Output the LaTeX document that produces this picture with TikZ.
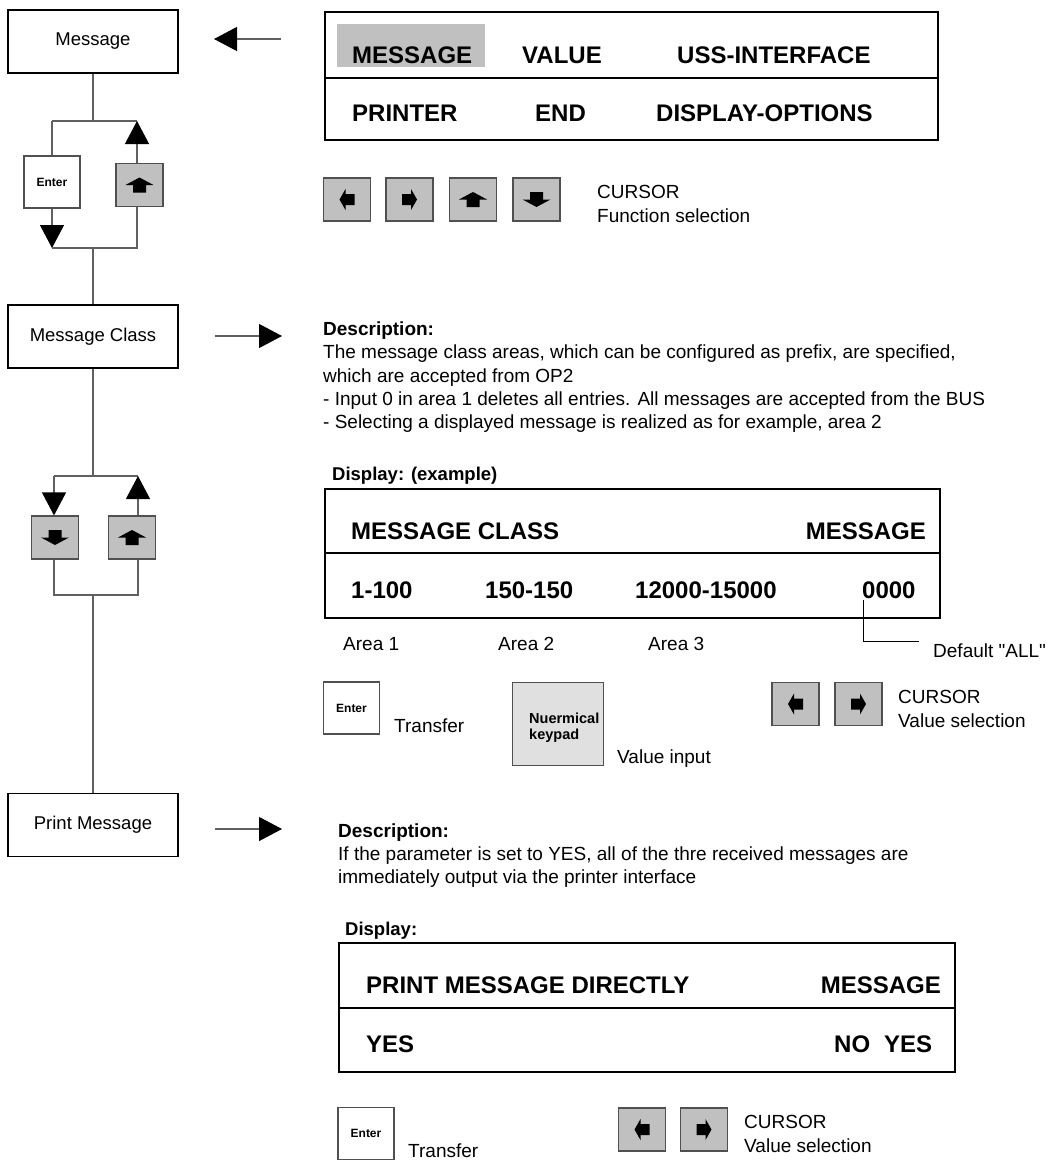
\documentclass[tikz,border=0pt]{standalone}
\usepackage{fontspec}
\setmainfont{Liberation Sans}
\usetikzlibrary{arrows.meta}
\definecolor{btngray}{HTML}{C0C0C0}
\definecolor{keygray}{HTML}{E0E0E0}
\definecolor{linegray}{HTML}{606060}
\definecolor{bordergray}{HTML}{505050}
\begin{document}
\begin{tikzpicture}[x=1pt,y=-1pt,
  lbox/.style={draw=black, line width=1.2pt, minimum width=170pt, minimum height=63pt, inner sep=0pt, font=\fontsize{18.5}{22}\selectfont},
  btn/.style={draw=bordergray, fill=btngray, line width=1.2pt, minimum width=47pt, minimum height=43pt, inner sep=0pt},
  enterbtn/.style={draw=bordergray, fill=white, line width=1.2pt, minimum width=56pt, minimum height=52pt, inner sep=0pt, font=\fontsize{12}{14}\selectfont\bfseries},
  keybtn/.style={draw=bordergray, fill=keygray, line width=1.2pt, minimum width=91pt, minimum height=83pt, inner sep=0pt},
  conn/.style={draw=linegray, line width=1.2pt},
  bigarrow/.style={-{Triangle[length=23pt,width=24pt,color=black]}},
  txt/.style={inner sep=0pt, anchor=base west, font=\fontsize{19}{23}\selectfont},
  btxt/.style={inner sep=0pt, anchor=base west, font=\fontsize{19}{23}\selectfont\bfseries},
  htxt/.style={inner sep=0pt, anchor=base west, font=\fontsize{18.5}{22}\selectfont\bfseries},
  ktxt/.style={inner sep=0pt, anchor=base west, font=\fontsize{14.5}{17}\selectfont\bfseries},
  dtxt/.style={inner sep=0pt, anchor=base west, font=\fontsize{24}{28}\selectfont\bfseries},
  dbox/.style={draw=black, line width=1.5pt, anchor=north west, inner sep=0pt},
  divider/.style={draw=black, line width=2pt},
  pics/uparr/.style={code={\fill[black] (-14,0)--(0,-7.5)--(14,0)--(6.5,0)--(6.5,7.5)--(-6.5,7.5)--(-6.5,0)--cycle;}},
  pics/downarr/.style={code={\fill[black] (-14,0)--(0,7.5)--(14,0)--(6.5,0)--(6.5,-7.5)--(-6.5,-7.5)--(-6.5,0)--cycle;}},
  pics/leftarr/.style={code={\fill[black] (-7.5,0)--(-1.5,-10.5)--(-1.5,-5.5)--(7.5,-5.5)--(7.5,5.5)--(-1.5,5.5)--(-1.5,10.5)--cycle;}},
  pics/rightarr/.style={code={\fill[black] (7.5,0)--(1.5,-10.5)--(1.5,-5.5)--(-7.5,-5.5)--(-7.5,5.5)--(1.5,5.5)--(1.5,10.5)--cycle;}},
]
\useasboundingbox (0,0) rectangle (1051,1160);

% ---------------- left column ----------------
\node[lbox] (msg) at (93,41.5) {Message};
\node[lbox] (mcl) at (93,336.5) {Message Class};
\node[lbox] (pm) at (93,825) {Print Message};

% loop 1
\node[enterbtn] (ent1) at (52,182) {Enter};
\node[btn] (up1) at (139.5,185) {};
\pic at (up1.center) {uparr};
\coordinate (j1) at (93,121);
\coordinate (j1l) at (52,121);
\coordinate (j1r) at (137,121);
\coordinate (j1bl) at (52,248);
\coordinate (j1br) at (137,248);
\coordinate (j1b) at (93,248);
\draw[conn] (msg.south) -- (j1);
\draw[conn] (j1l) -- (j1r);
\draw[conn] (j1l) -- (ent1.north);
\draw[conn,bigarrow] (ent1.south) -- (j1bl);
\draw[conn] (j1bl) -- (j1br) -- (up1.south -| j1br);
\draw[conn,bigarrow] (up1.north -| j1r) -- (j1r);
\draw[conn] (j1b) -- (mcl.north);

% loop 2
\node[btn] (dn2) at (55,537.5) {};
\pic at (dn2.center) {downarr};
\node[btn] (up2) at (132,537.5) {};
\pic at (up2.center) {uparr};
\coordinate (j2) at (93,476);
\coordinate (j2l) at (54,476);
\coordinate (j2r) at (138,476);
\coordinate (j2bl) at (54,595);
\coordinate (j2br) at (138,595);
\coordinate (j2b) at (93,595);
\draw[conn] (mcl.south) -- (j2);
\draw[conn] (j2l) -- (j2r);
\draw[conn,bigarrow] (j2l) -- (dn2.north -| j2l);
\draw[conn,bigarrow] (up2.north -| j2r) -- (j2r);
\draw[conn] (dn2.south -| j2l) -- (j2bl) -- (j2br) -- (up2.south -| j2r);
\draw[conn] (j2b) -- (pm.north);

% side arrows
\coordinate (a1s) at (281,39);
\coordinate (a1e) at (214,39);
\draw[conn,bigarrow] (a1s) -- (a1e);
\coordinate (a2s) at (215,336);
\coordinate (a2e) at (282,336);
\draw[conn,bigarrow] (a2s) -- (a2e);
\coordinate (a3s) at (215,829);
\coordinate (a3e) at (282,829);
\draw[conn,bigarrow] (a3s) -- (a3e);

% ---------------- top display ----------------
\node[dbox, minimum width=613pt, minimum height=128pt] (d1) at (324,11) {};
\fill[btngray] (337,24) rectangle (485,67);
\draw[divider] (d1.west |- 0,78) -- (d1.east |- 0,78);
\node[dtxt] (t11) at (352,63) {MESSAGE};
\node[dtxt] (t12) at (522,63) {VALUE};
\node[dtxt] (t13) at (677,63) {USS-INTERFACE};
\node[dtxt] (t21) at (352,121) {PRINTER};
\node[dtxt] (t22) at (535,121) {END};
\node[dtxt] (t23) at (656,121) {DISPLAY-OPTIONS};

\node[btn] (c1) at (347,199.5) {};
\pic at (c1.center) {leftarr};
\node[btn] (c2) at (409.5,199.5) {};
\pic at (c2.center) {rightarr};
\node[btn] (c3) at (473,199.5) {};
\pic at (c3.center) {uparr};
\node[btn] (c4) at (536.5,199.5) {};
\pic at (c4.center) {downarr};
\node[txt] (cur1) at (597,198) {CURSOR};
\node[txt] (fs1) at (597,222) {Function selection};

% ---------------- message class description ----------------
\node[btxt] (desc1) at (323,335) {Description:};
\node[txt] (dl1) at (323,358) {The message class areas, which can be configured as prefix, are specified,};
\node[txt] (dl2) at (323,382) {which are accepted from OP2};
\node[txt] (dl3) at (323,405) {- Input 0 in area 1 deletes all entries. All messages are accepted from the BUS};
\node[txt] (dl4) at (323,428) {- Selecting a displayed message is realized as for example, area 2};

\node[htxt] (dispex) at (332,480) {Display: (example)};
\node[dbox, minimum width=615pt, minimum height=129pt] (d2) at (324,488) {};
\draw[divider] (d2.west |- 0,553) -- (d2.east |- 0,553);
\node[dtxt] (e11) at (351,539) {MESSAGE CLASS};
\node[dtxt, anchor=base east] (e12) at (926,539) {MESSAGE};
\node[dtxt] (e21) at (351,598) {1-100};
\node[dtxt] (e22) at (485,598) {150-150};
\node[dtxt] (e23) at (635,598) {12000-15000};
\node[dtxt] (e24) at (862,598) {0000};
\node[txt] (ar1) at (343,650) {Area 1};
\node[txt] (ar2) at (498,650) {Area 2};
\node[txt] (ar3) at (648,650) {Area 3};
\coordinate (dfa) at (863,600);
\coordinate (dfb) at (863,641);
\coordinate (dfc) at (919,641);
\draw[draw=black, line width=1pt] (dfa) -- (dfb) -- (dfc);
\node[txt] (dflt) at (933,657) {Default \textquotedbl ALL\textquotedbl};

\node[enterbtn] (ent2) at (351.5,708) {Enter};
\node[txt] (tr2) at (394,732) {Transfer};
\node[keybtn, anchor=north west] (kp) at (512,682) {};
\node[ktxt] (kp1) at (529,723) {Nuermical};
\node[ktxt] (kp2) at (529,739) {keypad};
\node[txt] (vi) at (617,763) {Value input};
\node[btn] (c5) at (795.5,704) {};
\pic at (c5.center) {leftarr};
\node[btn] (c6) at (858.5,704) {};
\pic at (c6.center) {rightarr};
\node[txt] (cur2) at (898,703) {CURSOR};
\node[txt] (vs2) at (898,727) {Value selection};

% ---------------- print message ----------------
\node[btxt] (desc2) at (338,837) {Description:};
\node[txt] (pl1) at (338,860) {If the parameter is set to YES, all of the thre received messages are};
\node[txt] (pl2) at (338,883) {immediately output via the printer interface};

\node[htxt] (disp3) at (345,935) {Display:};
\node[dbox, minimum width=616pt, minimum height=129pt] (d3) at (338,942) {};
\draw[divider] (d3.west |- 0,1008) -- (d3.east |- 0,1008);
\node[dtxt] (p11) at (366,993) {PRINT MESSAGE DIRECTLY};
\node[dtxt, anchor=base east] (p12) at (941,993) {MESSAGE};
\node[dtxt] (p21) at (366,1052) {YES};
\node[dtxt] (p22) at (834,1052) {NO};
\node[dtxt] (p23) at (884,1052) {YES};

\node[enterbtn] (ent3) at (366,1133.5) {Enter};
\node[txt] (tr3) at (408,1157) {Transfer};
\node[btn] (c7) at (642,1129.5) {};
\pic at (c7.center) {leftarr};
\node[btn] (c8) at (704,1129.5) {};
\pic at (c8.center) {rightarr};
\node[txt] (cur3) at (744,1128) {CURSOR};
\node[txt] (vs3) at (744,1152) {Value selection};
\end{tikzpicture}
\end{document}
